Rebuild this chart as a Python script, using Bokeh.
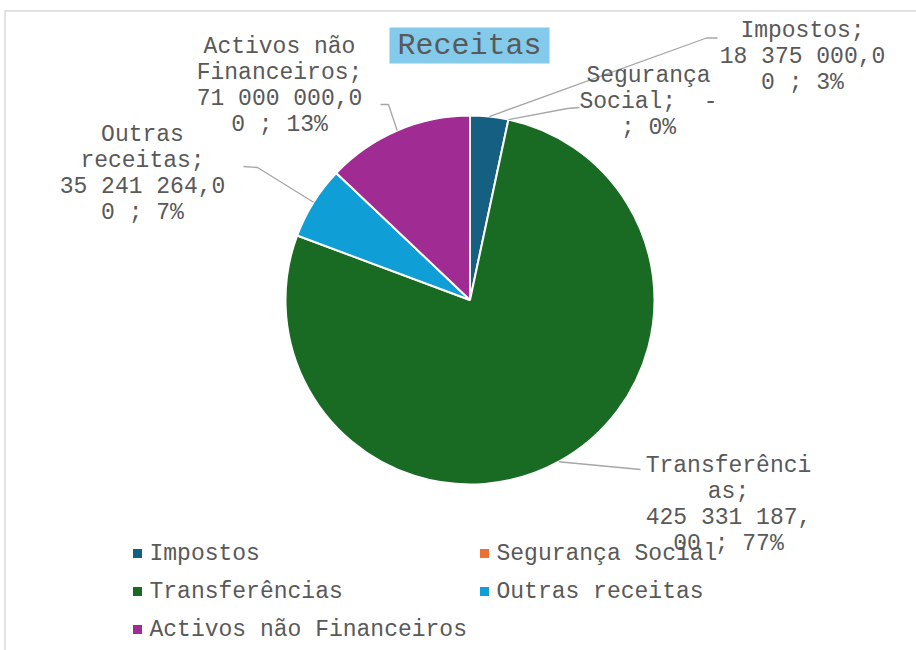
import math
from bokeh.plotting import figure
from bokeh.models import Range1d
from bokeh.core.properties import value
from bokeh.embed import file_html
from bokeh.resources import INLINE

# ---------------- data ----------------
categories = ["Impostos", "Segurança Social", "Transferências",
              "Outras receitas", "Activos não Financeiros"]
values = [18375000.00, 0.00, 425331187.00, 35241264.00, 71000000.00]
colors = ["#156082", "#E97132", "#196B24", "#0F9ED5", "#A02B93"]
data_labels = [
    "Impostos;\n18 375 000,0\n0 ; 3%",
    "Segurança\nSocial;\u00a0\u00a0-\n; 0%",
    "Transferênci\nas;\n425 331 187,\n00 ; 77%",
    "Outras\nreceitas;\n35 241 264,0\n0 ; 7%",
    "Activos não\nFinanceiros;\n71 000 000,0\n0 ; 13%",
]
title_text = "Receitas"

# ---------------- layout helpers ----------------
W, H = 916, 650
def X(sx): return sx
def Y(sy): return H - sy

FONT = value("Liberation Mono")
TXT = "#595959"

p = figure(width=W, height=H, x_range=Range1d(0, W), y_range=Range1d(0, H),
           x_axis_type=None, y_axis_type=None, output_backend="svg",
           toolbar_location=None, min_border=0)
p.grid.visible = False
p.outline_line_color = None
p.background_fill_color = "white"
p.border_fill_color = "white"

# chart border (top & left visible)
p.line(x=[X(4.5), X(4.5), X(916)], y=[Y(650), Y(10.5), Y(10.5)],
       line_color="#d9d9d9", line_width=1.5)

# ---------------- pie ----------------
cx, cy, R = X(469.5), Y(299.5), 184.5
total = sum(values)
cum = 0.0
mids = []
for v, c in zip(values, colors):
    f0 = cum / total
    cum += v
    f1 = cum / total
    mids.append((f0 + f1) / 2)
    if v <= 0:
        continue
    p.wedge(x=cx, y=cy, radius=R,
            start_angle=math.pi / 2 - 2 * math.pi * f1,
            end_angle=math.pi / 2 - 2 * math.pi * f0,
            fill_color=c, line_color="white", line_width=2)

# ---------------- leader lines ----------------
elbows = [
    [(706, 37.5), (717, 37.5)],
    [(567, 108), (579, 107)],
    [(640, 469)],
    [(257, 167), (243, 166)],
    [(388, 104), (380, 104)],
]
xs, ys = [], []
for m, el in zip(mids, elbows):
    a = 2 * math.pi * m
    sx0 = 469.5 + R * math.sin(a)
    sy0 = 299.5 - R * math.cos(a)
    xs.append([X(sx0)] + [X(e[0]) for e in el])
    ys.append([Y(sy0)] + [Y(e[1]) for e in el])
p.multi_line(xs=xs, ys=ys, line_color="#a6a6a6", line_width=1.3)

# ---------------- data labels ----------------
label_pos = [(802, 56.5), (648, 101.5), (728, 504.5), (142, 173), (279, 85.5)]
p.text(x=[X(a) for a, b in label_pos], y=[Y(b) for a, b in label_pos],
       text=data_labels, text_font=FONT, text_font_size="23px",
       text_color=TXT, text_align="center", text_baseline="middle",
       text_line_height=1.0)

# ---------------- title ----------------
p.rect(x=X(469), y=Y(45), width=160, height=36,
       fill_color="#83CAEB", line_color=None)
p.text(x=[X(469)], y=[Y(45)], text=[title_text], text_font=FONT,
       text_font_size="30px", text_color=TXT, text_align="center",
       text_baseline="middle")

# ---------------- legend ----------------
leg_cols = [137, 484]
leg_rows = [553, 591, 629]
lx, ly = [], []
for i in range(len(categories)):
    lx.append(leg_cols[i % 2])
    ly.append(leg_rows[i // 2])
p.rect(x=[X(a) for a in lx], y=[Y(b) for b in ly], width=9, height=9,
       fill_color=colors, line_color=None)
p.text(x=[X(a + 12) for a in lx], y=[Y(b) for b in ly], text=categories,
       text_font=FONT, text_font_size="23px", text_color=TXT,
       text_align="left", text_baseline="middle")

open("out.html", "w").write(file_html(p, INLINE))
